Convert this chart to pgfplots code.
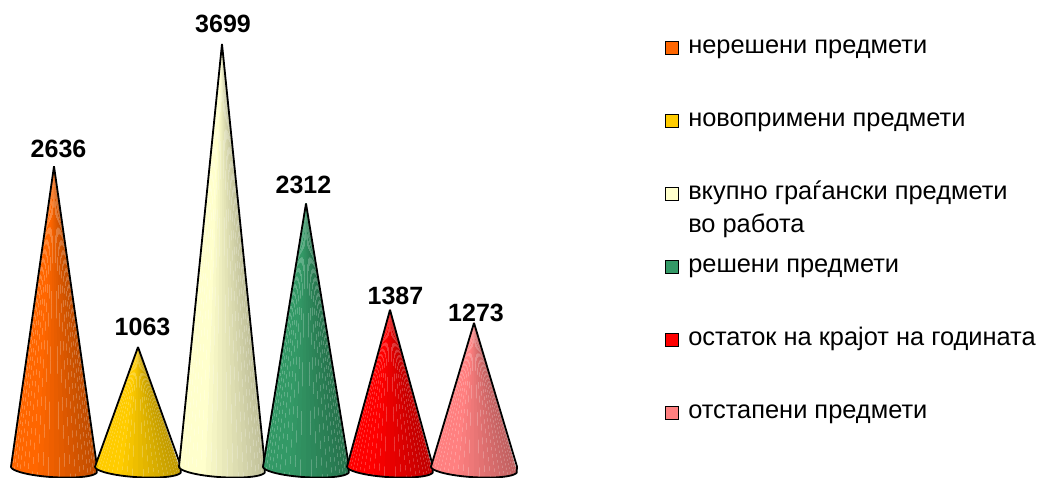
\documentclass[border=0pt]{standalone}
\usepackage{pgfplots}
\pgfplotsset{compat=1.18}
\usepackage{fontspec}
\setmainfont{Liberation Sans}
\definecolor{cA}{HTML}{FF6600}
\definecolor{cB}{HTML}{FFCC00}
\definecolor{cC}{HTML}{FFFFCC}
\definecolor{cD}{HTML}{339966}
\definecolor{cE}{HTML}{FF0000}
\definecolor{cF}{HTML}{FF8080}
% one cone: position, value, colour
\newcommand\cone[3]{%
  \edef\pts{}%
  \pgfplotsforeachungrouped \k in {0,...,23}{%
    \pgfmathsetmacro\ta{180+\k*7.5}%
    \pgfmathsetmacro\tb{180+(\k+1)*7.5}%
    \pgfmathsetmacro\xa{#1+0.512*cos(\ta)}%
    \pgfmathsetmacro\xb{#1+0.512*cos(\tb)}%
    \pgfmathsetmacro\ya{70*sin(\ta)-22*cos(\ta)}%
    \pgfmathsetmacro\yb{70*sin(\tb)-22*cos(\tb)}%
    \pgfmathsetmacro\u{0.5*(cos(\ta)+cos(\tb))}%
    \pgfmathsetmacro\P{\u<-0.45 ? 100 : 100-25*(\u+0.45)/1.45}%
    \edef\tmp{\noexpand\addplot[forget plot,draw=none,fill=#3!\P!black] coordinates {(\xa,\ya)(#1,#2)(\xb,\yb)};}%
    \tmp
    \edef\pts{\pts(\xa,\ya)}%
  }%
  \pgfmathsetmacro\xe{#1+0.512}%
  \edef\tmp{\noexpand\addplot[forget plot,black,line width=1.8pt,line join=miter,miter limit=20] coordinates {(#1,#2)\pts(\xe,22)(#1,#2)};}%
  \tmp
}
\newcommand\swatch[1]{\addlegendimage{legend image code/.code={\draw[black,line width=1.2pt,fill=#1] (0,-6.2pt) rectangle (13pt,6.8pt);}}}
\begin{document}
\begin{tikzpicture}
\begin{axis}[
  hide axis, scale only axis, width=1038pt, height=478pt,
  xmin=-0.6429, xmax=11.7143, ymin=-76.6, ymax=4082,
  clip=false, no markers,
  legend cell align=left,
  legend style={at={(0.6407,0.929)},anchor=north west,draw=none,fill=none,
    inner sep=0pt,outer sep=0pt,font=\fontsize{25.4}{29}\selectfont,
    row sep=45pt,column sep=7pt,
    nodes={inner sep=2pt,text height=18pt,text depth=6pt}},
]
\cone{0}{2636}{cA}
\cone{1}{1063}{cB}
\cone{2}{3699}{cC}
\cone{3}{2312}{cD}
\cone{4}{1387}{cE}
\cone{5}{1273}{cF}
\addplot[forget plot,only marks,mark=none,point meta=explicit symbolic,
  nodes near coords,
  nodes near coords style={anchor=center,font=\fontsize{25}{28}\bfseries\selectfont,inner sep=0pt}]
 table[meta=t] {
x y t
0.054 2786 2636
1.054 1237 1063
2.012 3873 3699
2.970 2472 2312
4.065 1507 1387
5.024 1359 1273
};
\swatch{cA}\addlegendentry{нерешени предмети}
\swatch{cB}\addlegendentry{новопримени предмети}
\swatch{cC}\addlegendentry{\rlap{\raisebox{-33pt}{во работа}}вкупно граѓански предмети}
\swatch{cD}\addlegendentry{решени предмети}
\swatch{cE}\addlegendentry{остаток на крајот на годината}
\swatch{cF}\addlegendentry{отстапени предмети}
\end{axis}
\pgfresetboundingbox
\path[use as bounding box] (0,0) rectangle (1038pt,478pt);
\end{tikzpicture}
\end{document}
